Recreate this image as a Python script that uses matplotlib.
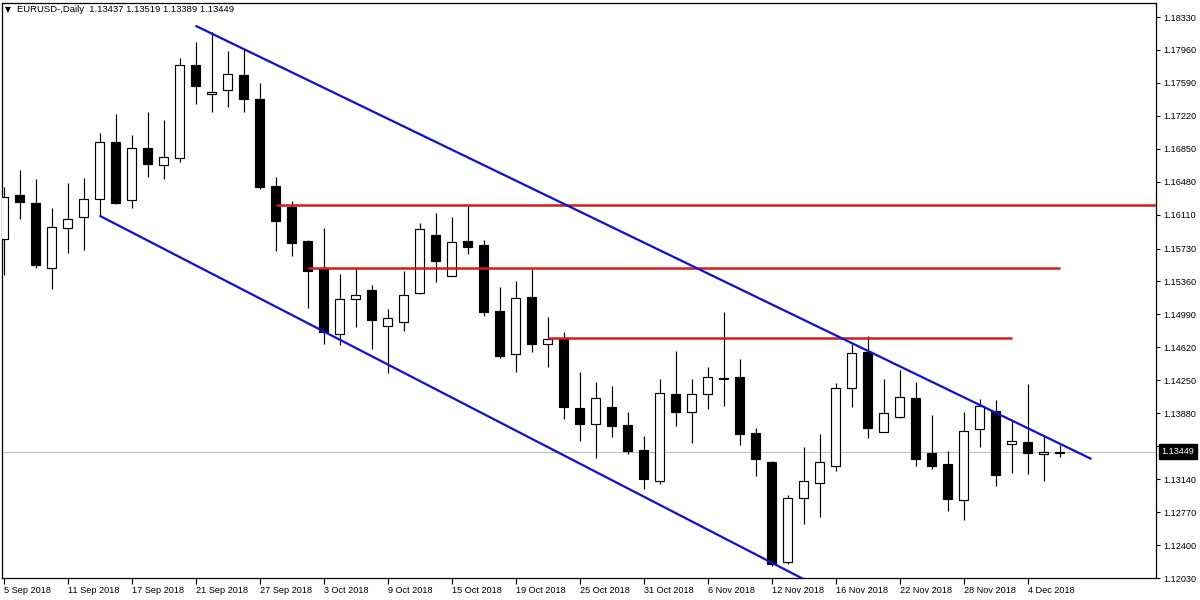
import numpy as np
import matplotlib
matplotlib.use('Agg')
import matplotlib.pyplot as plt
import matplotlib.transforms as mtrans

FONT = ['Liberation Sans', 'DejaVu Sans']
plt.rcParams['font.family'] = FONT

# ---------------- data (EURUSD daily, 5 Sep 2018 - 6 Dec 2018) ----------------
opens = [1.15837, 1.16331, 1.16241, 1.15511, 1.15961, 1.16084, 1.16286, 1.16926, 1.16275, 1.16859,
         1.16668, 1.16747, 1.17791, 1.17465, 1.17510, 1.17679, 1.17409, 1.16432, 1.16196, 1.15815,
         1.15511, 1.14770, 1.15163, 1.15264, 1.14860, 1.14905, 1.15231, 1.15882, 1.15422, 1.15815,
         1.15770, 1.15028, 1.14546, 1.15186, 1.14658, 1.14725, 1.13939, 1.13759, 1.13950, 1.13748,
         1.13467, 1.13119, 1.14096, 1.13894, 1.14096, 1.14276, 1.14287, 1.13658, 1.13333, 1.12210,
         1.12928, 1.13097, 1.13288, 1.14164, 1.14568, 1.13670, 1.13838, 1.14051, 1.13434, 1.13310,
         1.12906, 1.13703, 1.13905, 1.13535, 1.13557, 1.13420, 1.13437]
highs = [1.16421, 1.16612, 1.16511, 1.16185, 1.16466, 1.16522, 1.17027, 1.17241, 1.17005, 1.17263,
         1.17173, 1.17870, 1.18049, 1.18162, 1.17948, 1.17971, 1.17589, 1.16533, 1.16264, 1.15826,
         1.15961, 1.15444, 1.15511, 1.15320, 1.15051, 1.15478, 1.16017, 1.16129, 1.16084, 1.16219,
         1.15826, 1.15298, 1.15365, 1.15500, 1.14961, 1.14793, 1.14343, 1.14231, 1.14186, 1.13894,
         1.13625, 1.14265, 1.14579, 1.14265, 1.14400, 1.15017, 1.14489, 1.13715, 1.13340, 1.12962,
         1.13501, 1.13647, 1.14220, 1.14658, 1.14748, 1.14265, 1.14366, 1.14231, 1.13861, 1.13456,
         1.13894, 1.14040, 1.14029, 1.13793, 1.14209, 1.13625, 1.13519]
lows = [1.15433, 1.16062, 1.15511, 1.15276, 1.15680, 1.15713, 1.16095, 1.16230, 1.16185, 1.16533,
        1.16511, 1.16702, 1.17353, 1.17263, 1.17319, 1.17263, 1.16399, 1.15702, 1.15646, 1.15062,
        1.14658, 1.14647, 1.14849, 1.14602, 1.14332, 1.14804, 1.15219, 1.15354, 1.15422, 1.15669,
        1.14972, 1.14501, 1.14343, 1.14568, 1.14400, 1.13816, 1.13569, 1.13378, 1.13613, 1.13423,
        1.13030, 1.13086, 1.13737, 1.13546, 1.13928, 1.13962, 1.13524, 1.13176, 1.12165, 1.12187,
        1.12636, 1.12715, 1.13232, 1.13950, 1.13602, 1.13670, 1.13827, 1.13288, 1.13254, 1.12782,
        1.12681, 1.13501, 1.13063, 1.13209, 1.13198, 1.13119, 1.13389]
closes = [1.16309, 1.16253, 1.15545, 1.15972, 1.16062, 1.16286, 1.16926, 1.16241, 1.16859, 1.16679,
          1.16758, 1.17791, 1.17555, 1.17488, 1.17690, 1.17409, 1.16421, 1.16039, 1.15792, 1.15478,
          1.14793, 1.15163, 1.15208, 1.14927, 1.14950, 1.15208, 1.15949, 1.15590, 1.15803, 1.15747,
          1.15017, 1.14523, 1.15174, 1.14658, 1.14714, 1.13950, 1.13759, 1.14051, 1.13737, 1.13456,
          1.13142, 1.14108, 1.13894, 1.14096, 1.14287, 1.14270, 1.13647, 1.13366, 1.12187, 1.12928,
          1.13119, 1.13333, 1.14164, 1.14557, 1.13715, 1.13883, 1.14063, 1.13366, 1.13288, 1.12917,
          1.13681, 1.13962, 1.13187, 1.13569, 1.13434, 1.13440, 1.13449]

date_tick_pos = [0, 4, 8, 12, 16, 20, 24, 28, 32, 36, 40, 44, 48, 52, 56, 60, 64]
date_tick_labels = ['5 Sep 2018', '11 Sep 2018', '17 Sep 2018', '21 Sep 2018', '27 Sep 2018',
                    '3 Oct 2018', '9 Oct 2018', '15 Oct 2018', '19 Oct 2018', '25 Oct 2018',
                    '31 Oct 2018', '6 Nov 2018', '12 Nov 2018', '16 Nov 2018', '22 Nov 2018',
                    '28 Nov 2018', '4 Dec 2018']
price_ticks = [1.12030, 1.12400, 1.12770, 1.13140, 1.13510, 1.13880, 1.14250, 1.14620, 1.14990,
               1.15360, 1.15730, 1.16110, 1.16480, 1.16850, 1.17220, 1.17590, 1.17960, 1.18330]

# trend lines: (bar index, price)
upper_trend = [(12, 1.18232), (68, 1.13366)]
lower_trend = [(6, 1.16099), (50.3, 1.11990)]
# horizontal levels: (start bar, end bar or None = to right edge, price)
levels = [(17, None, 1.16222), (19, 66, 1.15511), (34, 63, 1.14725)]
last_price = 1.13449
header = 'EURUSD-,Daily  1.13437 1.13519 1.13389 1.13449'

# ---------------- figure ----------------
W, H = 1200, 600
fig = plt.figure(figsize=(12, 6), dpi=100)
L, R, T, B = 2, 1156, 2.5, 578
ax = fig.add_axes([L / W, 1 - B / H, (R - L) / W, (B - T) / H])
ax.set_facecolor('white')

n = len(opens)
x = np.arange(n)
o = np.array(opens); c = np.array(closes); h = np.array(highs); l = np.array(lows)

ax.axhline(last_price, color='#c0c0c0', lw=0.8, zorder=1)
ax.vlines(x, l, h, color='black', lw=0.85, zorder=2)
bull = c >= o
bottoms = np.minimum(o, c)
heights = np.abs(c - o)
ax.bar(x, heights, bottom=bottoms, width=0.62,
       color=['white' if b else 'black' for b in bull],
       edgecolor='black', linewidth=0.85, zorder=3)

xmin, xmax = -0.094, 72.03
for (xs, xe, p) in levels:
    ax.plot([xs, xmax if xe is None else xe], [p, p], color='#d41c1c', lw=1.8,
            solid_capstyle='butt', zorder=4)
for tl in (upper_trend, lower_trend):
    ax.plot([tl[0][0], tl[1][0]], [tl[0][1], tl[1][1]], color='#1010cc', lw=1.6,
            solid_capstyle='butt', zorder=5)

ax.set_xlim(xmin, xmax)
ax.set_ylim(1.12030, 1.18493)

for s in ax.spines.values():
    s.set_color('black'); s.set_linewidth(0.9)

ax.set_xticks(date_tick_pos)
ax.set_xticklabels(date_tick_labels)
for lbl in ax.get_xticklabels():
    lbl.set_horizontalalignment('left')
ax.tick_params(axis='x', direction='out', length=4, width=0.8, pad=1.5,
               labelsize=6.6, colors='black')

ax.yaxis.tick_right()
ax.set_yticks(price_ticks)
ax.set_yticklabels(['%.5f' % v for v in price_ticks])
ax.tick_params(axis='y', direction='out', length=3, width=0.8, pad=2.5,
               labelsize=6.6, colors='black')

trans = mtrans.blended_transform_factory(ax.transAxes, ax.transData)
ax.text(1 + 5.5 / (R - L), last_price, '%.5f' % last_price, transform=trans,
        ha='left', va='center', color='white', fontsize=6.6,
        bbox=dict(boxstyle='square,pad=0.3', fc='black', ec='black'),
        clip_on=False, zorder=10)

fig.text(5 / W, 1 - 10 / H, '\u25bc', fontsize=5.5, va='center', ha='left',
         family=['DejaVu Sans'])
fig.text(17 / W, 1 - 10 / H, header, fontsize=6.8, va='center', ha='left')

fig.savefig('out.png', dpi=100, facecolor='white')
